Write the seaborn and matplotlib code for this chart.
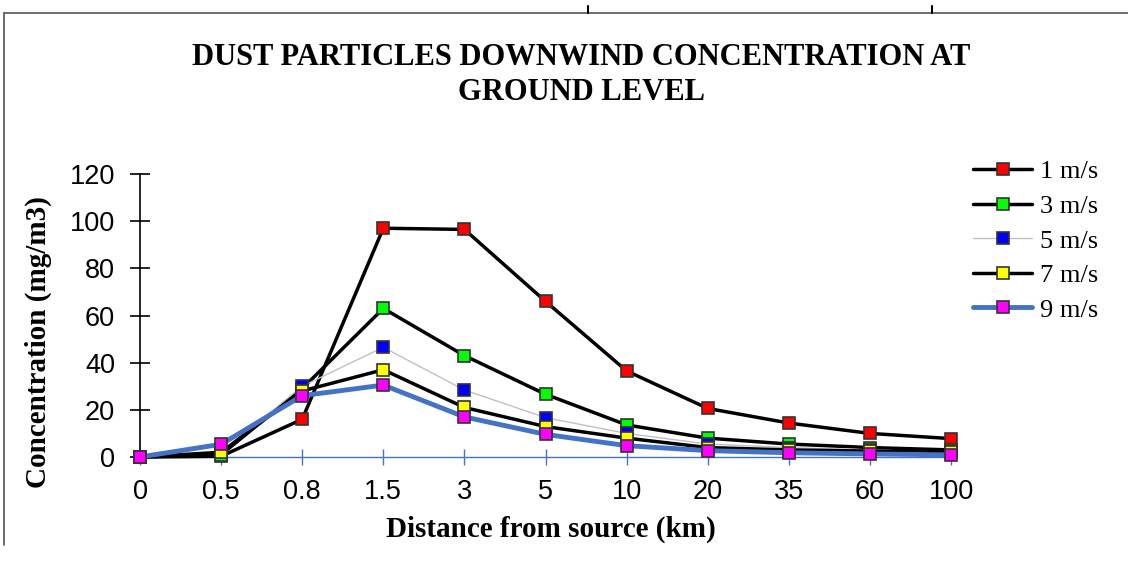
import numpy as np
import pandas as pd
import matplotlib
matplotlib.use("Agg")
import matplotlib.pyplot as plt
from matplotlib.lines import Line2D
import seaborn as sns

distances = ["0", "0.5", "0.8", "1.5", "3", "5", "10", "20", "35", "60", "100"]
series_names = ["1 m/s", "3 m/s", "5 m/s", "7 m/s", "9 m/s"]
v1 = [0, 0.3, 16, 97, 96.5, 66, 36.5, 20.6, 14.4, 10, 7.8]
v3 = [0, 1, 29, 63, 43, 26.6, 13.6, 8, 5.5, 4, 3]
v5 = [0, 2, 30, 46.5, 28.4, 16.7, 10, 5.5, 4, 3, 2]
v7 = [0, 2, 28, 37, 21, 12.9, 8, 4, 3, 2.5, 2]
v9 = [0, 5.4, 26, 30.5, 17, 9.6, 4.8, 2.7, 1.8, 1.3, 0.9]
yticks = [0, 20, 40, 60, 80, 100, 120]

sns.set_theme(style="white")
plt.rcParams["font.family"] = ["Liberation Serif", "DejaVu Serif"]
plt.rcParams["text.color"] = "black"
plt.rcParams["axes.labelcolor"] = "black"
plt.rcParams["xtick.color"] = "black"
plt.rcParams["ytick.color"] = "black"

styles = {
    "1 m/s": dict(color="black", lw=2.5, mfc="#ff0000"),
    "3 m/s": dict(color="black", lw=2.5, mfc="#00ff00"),
    "5 m/s": dict(color="#c0c0c0", lw=1.0, mfc="#0000ff"),
    "7 m/s": dict(color="black", lw=2.5, mfc="#ffff00"),
    "9 m/s": dict(color="#4472c4", lw=3.5, mfc="#ff00ff"),
}

fig = plt.figure(figsize=(11.28, 5.64), dpi=100)
ax = fig.add_axes([140 / 1128, 1 - 457 / 564, 811 / 1128, 283 / 564])

pos = np.arange(len(distances))
handles = []
for name, vals in zip(series_names, [v1, v3, v5, v7, v9]):
    st = styles[name]
    df = pd.DataFrame({"x": pos, "y": vals})
    sns.lineplot(data=df, x="x", y="y", ax=ax, color=st["color"], linewidth=st["lw"],
                 marker="s", markersize=9, markerfacecolor=st["mfc"],
                 markeredgecolor="#333333", markeredgewidth=1.2, sort=False,
                 clip_on=False, zorder=3)
    handles.append(Line2D([0], [0], color=st["color"], lw=st["lw"], marker="s",
                          markersize=9, markerfacecolor=st["mfc"],
                          markeredgecolor="#333333", markeredgewidth=1.2))

ax.set_xlim(0, 10)
ax.set_ylim(0, 120)
ax.set_xticks(pos)
ax.set_xticklabels(distances)
ax.set_yticks(yticks)
ax.set_yticklabels([str(t) for t in yticks])

for lab in ax.get_xticklabels() + ax.get_yticklabels():
    lab.set_family(["Liberation Sans Narrow", "Liberation Sans", "DejaVu Sans"])
    lab.set_fontsize(19.5)
    lab.set_color("black")

ax.tick_params(axis="y", left=True, direction="inout", length=14, width=1.2,
               color="black", pad=11)
ax.tick_params(axis="x", bottom=True, direction="inout", length=12, width=1.0,
               color="#4472c4", pad=10)
for s in ["top", "right"]:
    ax.spines[s].set_visible(False)
ax.spines["left"].set_color("black")
ax.spines["left"].set_linewidth(1.2)
ax.spines["bottom"].set_color("#4472c4")
ax.spines["bottom"].set_linewidth(1.0)
ax.grid(False)
ax.set_xlabel("")
ax.set_ylabel("")

fig.text(551 / 1128, 1 - 529 / 564, "Distance from source (km)",
         ha="center", va="center", fontsize=21, fontweight="bold")
fig.text(38 / 1128, 1 - 342 / 564, "Concentration (mg/m3)", rotation=90,
         ha="center", va="center", fontsize=21, fontweight="bold")

fig.text(581 / 1128, 1 - 75 / 564,
         "DUST PARTICLES DOWNWIND CONCENTRATION AT\nGROUND LEVEL",
         ha="center", va="center", fontsize=22, fontweight="bold", linespacing=1.25)

leg = fig.legend(handles=handles, labels=series_names, loc="upper left",
                 bbox_to_anchor=(973 / 1128, 1 - 160 / 564), frameon=False,
                 fontsize=19, handlelength=2.24, labelspacing=0.42,
                 handletextpad=0.3, borderpad=0, borderaxespad=0)

# outer frame lines
fig.add_artist(Line2D([4 / 1128, 1.0], [1 - 13 / 564, 1 - 13 / 564],
                      color="#555555", lw=1.2, transform=fig.transFigure))
fig.add_artist(Line2D([4 / 1128, 4 / 1128], [1 - 13 / 564, 1 - 545 / 564],
                      color="#555555", lw=1.2, transform=fig.transFigure))
for xp in [588, 932]:
    fig.add_artist(Line2D([xp / 1128, xp / 1128], [1 - 6 / 564, 1 - 13 / 564],
                          color="black", lw=1.5, transform=fig.transFigure))

fig.savefig("out.png", dpi=100)
